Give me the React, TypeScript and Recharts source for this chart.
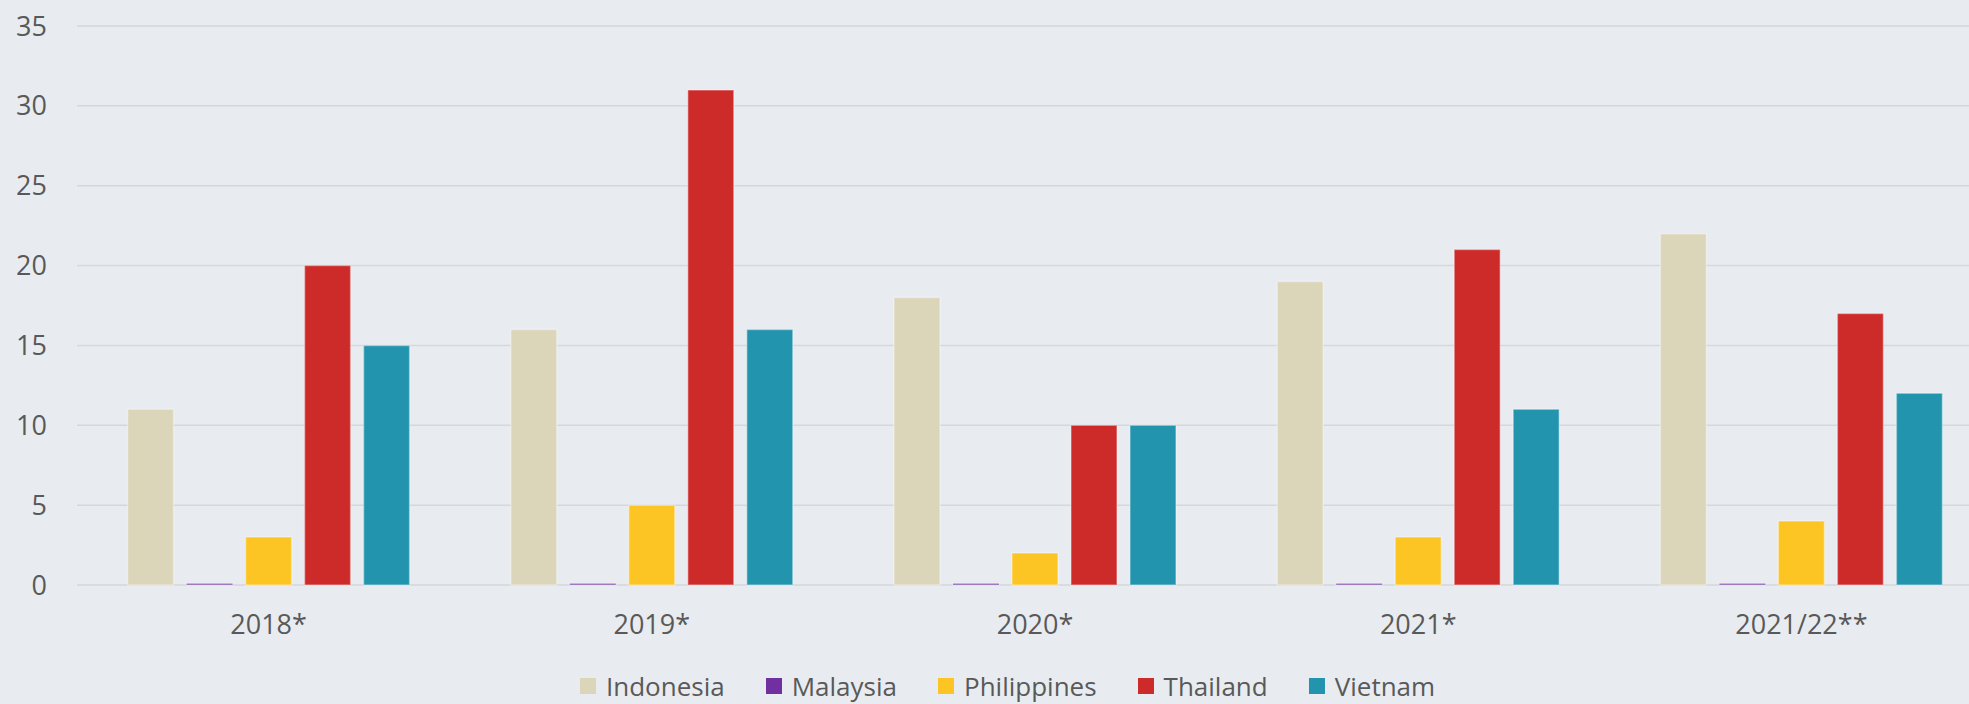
import { BarChart, Bar, XAxis, YAxis, CartesianGrid, Legend } from "recharts";

const PERIODS = ["2018*", "2019*", "2020*", "2021*", "2021/22**"];
const INDONESIA = [11, 16, 18, 19, 22];
const MALAYSIA = [0.1, 0.1, 0.1, 0.1, 0.1];
const PHILIPPINES = [3, 5, 2, 3, 4];
const THAILAND = [20, 31, 10, 21, 17];
const VIETNAM = [15, 16, 10, 11, 12];
const Y_TICKS = [0, 5, 10, 15, 20, 25, 30, 35];

const SERIES = [
  { key: "Indonesia", color: "#DBD6BA" },
  { key: "Malaysia", color: "#7030A0" },
  { key: "Philippines", color: "#FCC524" },
  { key: "Thailand", color: "#CD2A2A" },
  { key: "Vietnam", color: "#2394AE" },
];

const data = PERIODS.map((period, i) => ({
  period,
  Indonesia: INDONESIA[i],
  Malaysia: MALAYSIA[i],
  Philippines: PHILIPPINES[i],
  Thailand: THAILAND[i],
  Vietnam: VIETNAM[i],
}));

const FONT = "'Open Sans', sans-serif";
const TEXT = "#595959";

function LegendContent() {
  return (
    <div style={{ display: "flex", alignItems: "center", paddingLeft: 580, height: 28, fontFamily: FONT, fontSize: 26, lineHeight: "28px", color: TEXT }}>
      {SERIES.map((s) => (
        <div key={s.key} style={{ display: "flex", alignItems: "center", marginRight: 41 }}>
          <span style={{ width: 16, height: 16, background: s.color, marginRight: 10, display: "inline-block" }} />
          <span>{s.key}</span>
        </div>
      ))}
    </div>
  );
}

export default function App() {
  return (
    <div style={{ position: "absolute", left: 0, top: 0, width: 1969, height: 704, overflow: "hidden", background: "#E8ECF0" }}>
      <BarChart
        width={2000}
        height={704}
        data={data}
        margin={{ top: 26, right: 7, left: 0, bottom: 59 }}
        barCategoryGap="13.2%"
        barGap={13}
      >
        <CartesianGrid vertical={false} stroke="#D5D7DA" strokeWidth={1.5} />
        <XAxis
          dataKey="period"
          axisLine={false}
          tickLine={false}
          tickSize={0}
          tickMargin={30}
          height={60}
          tick={{ fill: TEXT, fontSize: 27, fontFamily: FONT }}
        />
        <YAxis
          domain={[0, 35]}
          ticks={Y_TICKS}
          width={77}
          axisLine={false}
          tickLine={false}
          tickSize={0}
          tickMargin={30}
          tick={{ fill: TEXT, fontSize: 27, fontFamily: FONT }}
        />
        <Legend
          verticalAlign="middle"
          align="center"
          layout="horizontal"
          wrapperStyle={{ top: 672, left: 0, width: 1969, height: 28 }}
          content={() => <LegendContent />}
        />
        {SERIES.map((s) => (
          <Bar
            key={s.key}
            dataKey={s.key}
            fill={s.color}
            stroke="rgba(255,255,255,0.35)"
            strokeWidth={1.5}
            isAnimationActive={false}
          />
        ))}
      </BarChart>
    </div>
  );
}
